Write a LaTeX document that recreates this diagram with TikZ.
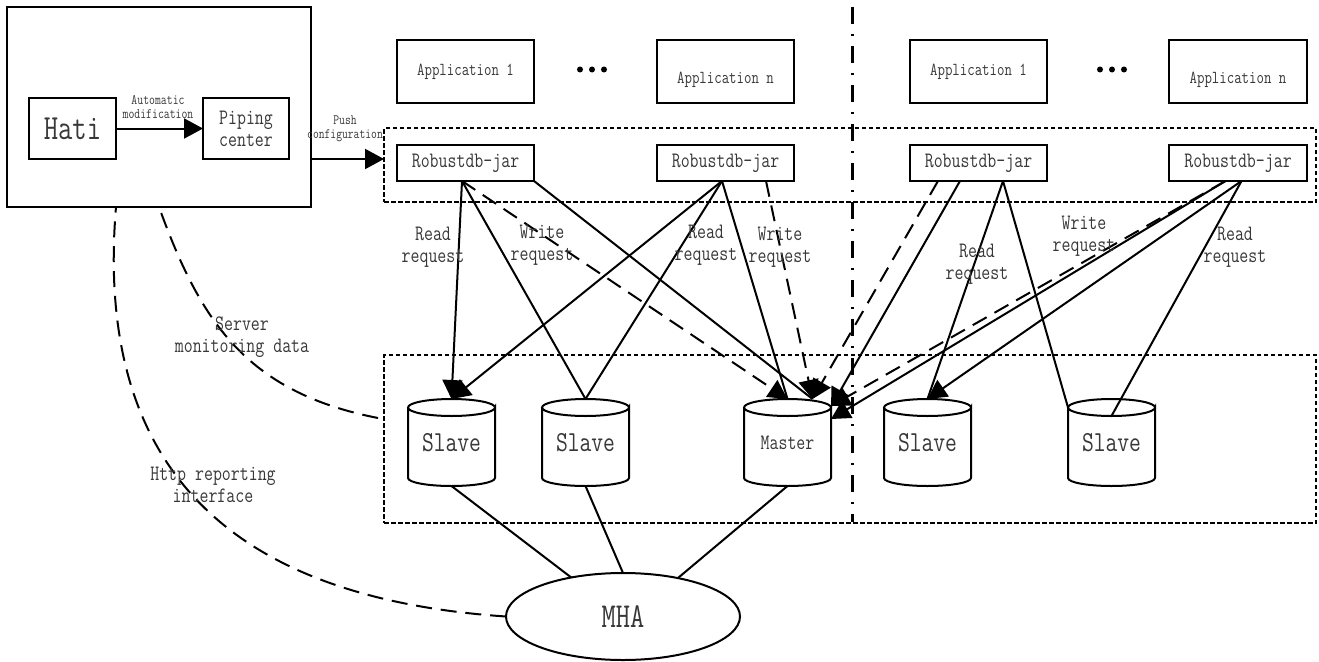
\documentclass[tikz,border=0pt]{standalone}
\usepackage{fontspec}
\setmonofont[FakeStretch=0.79]{Latin Modern Mono}
\usetikzlibrary{arrows.meta,calc,shapes.geometric}
\newcommand{\fs}[2][]{\fontsize{#2}{#2}\selectfont\ttfamily\color{black!78}}
\tikzset{
  lw/.style={line width=2pt},
  boxnode/.style={draw,lw,outer sep=0pt,inner sep=0pt,align=center,font=\fs{22}},
  lbl/.style={inner sep=0pt,align=center,font=\fs{22}},
  conn/.style={lw},
  arr/.style={lw,-{Triangle[length=19pt,width=20pt]}},
  dashline/.style={lw,dash pattern=on 16pt off 9pt},
  dotbox/.style={lw,dash pattern=on 4.5pt off 2.5pt},
  dd/.style={line width=2.2pt,dash pattern=on 17pt off 10pt on 2pt off 10pt},
  cylnode/.style={inner sep=0pt,outer sep=0pt,minimum width=87pt,minimum height=87pt,align=center,font=\fs{29}},
}
\newcommand{\cyl}[3]{%
  \node[cylnode] (#1) at (#2,442.5) {#3};
  \draw[lw,fill=none] (#1.north west |- 0,407.5) -- (#1.south west |- 0,478)
     arc[start angle=180,end angle=360,x radius=43.5pt,y radius=8pt]
     -- (#1.north east |- 0,407.5)
     arc[start angle=0,end angle=-360,x radius=43.5pt,y radius=8.5pt];
}
\begin{document}
\begin{tikzpicture}[x=1pt,y=-1pt]
\useasboundingbox (0,0) rectangle (1319,661);
% left group
\node[boxnode,minimum width=304pt,minimum height=200pt] (hg) at (159,107) {};
\node[boxnode,minimum width=87pt,minimum height=61pt,font=\fs{35.3}] (hati) at (72.5,128.5) {Hati};
\node[boxnode,minimum width=86pt,minimum height=61pt] (pipe) at (246,128.5) {Piping\\center};
% dotted regions
\node[draw,dotbox,minimum width=932pt,minimum height=74pt,outer sep=0pt] (top) at (850,165) {};
\node[draw,dotbox,minimum width=932pt,minimum height=168pt,outer sep=0pt] (bot) at (850,439) {};
% applications
\node[boxnode,minimum width=137pt,minimum height=63pt,font=\fs{18.3}] (a1) at (465.5,71.5) {Application 1};
\node[boxnode,minimum width=137pt,minimum height=63pt,font=\fs{18.3}] (a2) at (725.5,71.5) {\smash{\raisebox{-12pt}{Application n}}};
\node[boxnode,minimum width=137pt,minimum height=63pt,font=\fs{18.3}] (a3) at (978.5,71.5) {Application 1};
\node[boxnode,minimum width=138pt,minimum height=63pt,font=\fs{18.3}] (a4) at (1238,71.5) {\smash{\raisebox{-12pt}{Application n}}};
\foreach \x in {580,592,604,1100,1112,1124} \fill (\x,69.5) circle (3pt);
% jars
\node[boxnode,minimum width=137pt,minimum height=36pt] (r1) at (465.5,163) {Robustdb-jar};
\node[boxnode,minimum width=137pt,minimum height=36pt] (r2) at (725.5,163) {Robustdb-jar};
\node[boxnode,minimum width=137pt,minimum height=36pt] (r3) at (978.5,163) {Robustdb-jar};
\node[boxnode,minimum width=138pt,minimum height=36pt] (r4) at (1238,163) {Robustdb-jar};
% cylinders
\cyl{s1}{451.5}{Slave}
\cyl{s2}{585.5}{Slave}
\cyl{m}{787.5}{\fs{22}Master}
\cyl{s3}{927.5}{Slave}
\cyl{s4}{1111.5}{Slave}
% MHA
\node[draw,lw,ellipse,inner sep=0pt,outer sep=0pt,minimum width=234pt,minimum height=87pt,font=\fs{35}] (mha) at (623,616.5) {MHA};
% top-left arrows
\draw[arr] (hati.east) -- (pipe.west);
\draw[arr] (hg.east |- pipe.south) -- (top.west |- pipe.south);
% connectors from jars
\draw[arr] ([xshift=-3.5pt]r1.south) -- (s1.north);
\draw[conn] ([xshift=-3.5pt]r1.south) -- (s2.north);
\draw[arr,dash pattern=on 16pt off 9pt] ([xshift=-3.5pt]r1.south) -- (m.north);
\draw[conn] (r1.south east) -- ([xshift=25pt]m.north);
\draw[arr] ([xshift=-3.5pt]r2.south) -- (s1.north);
\draw[conn] ([xshift=-3.5pt]r2.south) -- (s2.north);
\draw[conn] ([xshift=-3.5pt]r2.south) -- (m.north);
\draw[arr,dash pattern=on 16pt off 9pt] ([xshift=40.5pt]r2.south) -- ([xshift=25pt]m.north);
\draw[arr,dash pattern=on 16pt off 9pt] ([xshift=-40.5pt]r3.south) -- ([xshift=25pt]m.north);
\draw[arr] ([xshift=-18.5pt]r3.south) -- ([yshift=-8pt]m.north east);
\draw[conn] ([xshift=24.5pt]r3.south) -- (s3.north);
\draw[conn] ([xshift=24.5pt]r3.south) -- ([yshift=-8.5pt]s4.north west);
\draw[arr,dash pattern=on 16pt off 9pt] ([xshift=-12.5pt]r4.south) -- ([yshift=-7pt]m.north east);
\draw[arr] ([xshift=-12.5pt]r4.south) -- ([yshift=-20pt]m.north east);
\draw[arr] ([xshift=3.5pt]r4.south) -- (s3.north);
\draw[conn] ([xshift=3.5pt]r4.south) -- ([yshift=-17pt]s4.north);
% to MHA
\draw[conn] (s1.south) -- (mha.143);
\draw[conn] (s2.south) -- (mha.90);
\draw[conn] (m.south) -- (mha.35);
% dashed curves
\draw[dashline] ([xshift=-6pt]bot.west |- 0,418) .. controls (245,392) and (200,320) .. (hg.south);
\draw[lw,dash pattern=on 16pt off 8.85pt] (mha.west) .. controls (262,600) and (92,495) .. ([xshift=-43pt]hg.south);
% dash-dot divider
\draw[dd] (852.5,7) -- (852.5,522);
% labels
\node[lbl,font=\fs{14.5}] (l1) at (158,107) {Automatic\\modification};
\node[lbl,font=\fs{14.3}] (l2) at (345,128.5) {Push\\configuration};
\node[lbl] (l3) at (433,247) {Read\\request};
\node[lbl] (l4) at (542,245) {Write\\request};
\node[lbl] (l5) at (706,245) {Read\\request};
\node[lbl] (l6) at (780,247) {Write\\request};
\node[lbl] (l7) at (977,264.5) {Read\\request};
\node[lbl] (l8) at (1084,236.5) {Write\\request};
\node[lbl] (l9) at (1235,247) {Read\\request};
\node[lbl] (l10) at (242,337.5) {Server\\monitoring data};
\node[lbl] (l11) at (213,485) {Http reporting\\interface};
\end{tikzpicture}
\end{document}
